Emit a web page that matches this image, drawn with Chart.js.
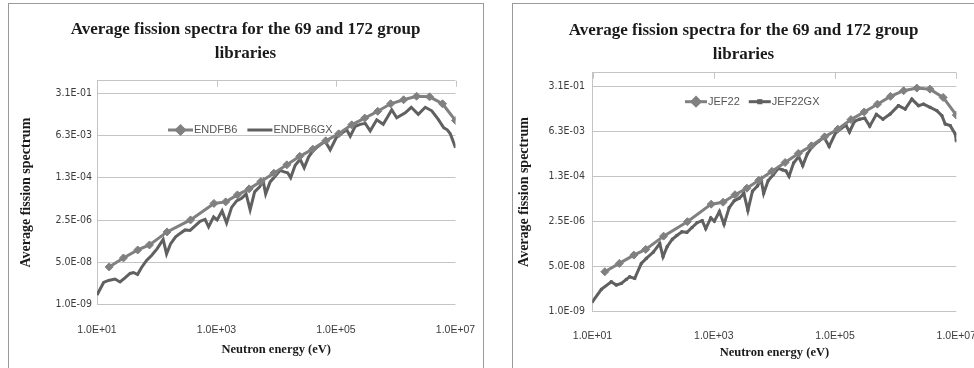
<!DOCTYPE html>
<html>
<head>
<meta charset="utf-8">
<script src="https://cdn.jsdelivr.net/npm/chart.js@4.4.0/dist/chart.umd.min.js"></script>
<style>
  html, body { margin: 0; padding: 0; background: #fff; overflow: hidden; }
  body { width: 974px; height: 368px; position: relative; }
  .panel { position: absolute; border: 1px solid #9a9a9a; }
  #left-panel { left: 8px; top: 3px; width: 474px; height: 390px; }
  #right-panel { left: 512px; top: 3px; width: 480px; height: 390px; }
  canvas { position: absolute; }
  #left { left: 9px; top: 4px; }
  #right { left: 513px; top: 4px; }
</style>
</head>
<body>
<div class="panel" id="left-panel"></div>
<div class="panel" id="right-panel"></div>
<canvas id="left" width="473" height="364"></canvas>
<canvas id="right" width="461" height="364"></canvas>
<script>
const titleLines = ['Average fission spectra for the 69 and 172 group', 'libraries']
const xTicks = [1e1, 1e3, 1e5, 1e7]
const xTickLabels = ['1.0E+01', '1.0E+03', '1.0E+05', '1.0E+07']
const yTicks = [1e-9, 5e-8, 2.5e-6, 1.25e-4, 6.25e-3, 0.3125]
const yTickLabels = ['1.0E-09', '5.0E-08', '2.5E-06', '1.3E-04', '6.3E-03', '3.1E-01']

// 69 group library (energy in eV, upper group bound)
const energy69 = [15.97, 27.7, 48.05, 75.5, 148.7, 367.3, 906.9, 1425, 2239, 3519, 5530, 9118, 15030, 24780,
  40850, 67340, 111000, 183000, 302500, 500000, 821000, 1353000, 2231000, 3679000, 6065500, 10000000]
const endfb6 = [3.24e-8, 7.45e-8, 1.56e-7, 2.48e-7, 8.3e-7, 2.52e-6, 1.16e-5, 1.34e-5, 2.56e-5, 4.47e-5, 8.8e-5,
  1.91e-4, 4.13e-4, 9.08e-4, 1.77e-3, 3.82e-3, 7.31e-3, 1.68e-2, 3.13e-2, 5.89e-2, 0.118, 0.171, 0.237, 0.225, 0.118, 0.0251]
const jef22 = [3.1e-8, 6.4e-8, 1.32e-7, 2.16e-7, 6.84e-7, 2.4e-6, 1.1e-5, 1.3e-5, 2.5e-5, 4.4e-5, 8.7e-5,
  1.9e-4, 4.1e-4, 9.0e-4, 1.75e-3, 3.8e-3, 7.4e-3, 1.7e-2, 3.3e-2, 6.5e-2, 0.128, 0.209, 0.262, 0.240, 0.117, 0.0252]

// 172 group library
const energyGX = [10, 12.9, 15.6, 20, 24.3, 29.4, 35.7, 40.9, 47.7, 55.7,
  67.5, 81.8, 101, 128, 146, 170, 207, 246, 298, 361,
  438, 531, 644, 738, 894, 1023, 1241, 1476, 1790, 2171,
  2633, 3133, 3655, 4347, 5272, 6035, 6645, 7904, 9585, 11622,
  13563, 15524, 17425, 20730, 25135, 29330, 34886, 42313, 54366, 65931,
  79947, 102730, 124590, 151090, 172960, 209720, 254330, 308410, 374070, 480490,
  617600, 857000, 1039000, 1443000, 1818000, 2382000, 3120000, 4009000, 5151000, 6368000,
  7289000, 8184000, 10000000]
const endfb6gx = [2.41e-9, 7.69e-9, 9.25e-9, 1.06e-8, 8.05e-9, 1.17e-8, 1.77e-8, 1.94e-8, 1.61e-8, 3.09e-8,
  5.9e-8, 9.39e-8, 1.72e-7, 4.14e-7, 1.08e-7, 2.73e-7, 5.22e-7, 7.22e-7, 9.98e-7, 9.53e-7,
  1.45e-6, 2.2e-6, 2.64e-6, 1.32e-6, 3.33e-6, 2.52e-6, 5.81e-6, 1.91e-6, 8.04e-6, 1.47e-5,
  1.85e-5, 2.81e-5, 6.37e-6, 3.38e-5, 5.37e-5, 9.37e-5, 2.81e-5, 8.54e-5, 1.42e-4, 2.48e-4,
  2.16e-4, 1.97e-4, 1.24e-4, 3.94e-4, 6.88e-4, 3.13e-4, 8.67e-4, 1.66e-3, 2.64e-3, 3.65e-3,
  1.66e-3, 5.54e-3, 7.66e-3, 1.06e-2, 5.8e-3, 1.47e-2, 1.76e-2, 1.93e-2, 9.65e-3, 2.68e-2,
  1.76e-2, 6.76e-2, 3.22e-2, 5.12e-2, 8.52e-2, 4.46e-2, 8.52e-2, 6.16e-2, 2.8e-2, 1.28e-2,
  1.06e-2, 7.31e-3, 2.0e-3]

const energyJefGX = [10, 14, 20.4, 24.7, 29.9, 36.1, 41.1, 49.7, 63.9, 77.3,
  101, 128.5, 145.6, 170, 207, 246, 298, 361, 438, 531,
  644, 738, 894, 1023, 1241, 1476, 1790, 2171, 2633, 3133,
  3655, 4347, 5272, 6035, 6645, 7904, 9585, 11622, 13563, 15524,
  17425, 20730, 25135, 29330, 34886, 42313, 54366, 65931, 79947, 102730,
  124590, 151090, 172960, 209720, 254330, 308410, 374070, 480490, 617600, 810000,
  1110000, 1435000, 1850000, 2380000, 2880000, 3710000, 4780000, 5780000, 6560000, 7930000,
  9600000, 10000000]
const jef22gx = [2.3e-9, 6.7e-9, 1.3e-8, 9.8e-9, 1.13e-8, 1.6e-8, 2.0e-8, 1.75e-8, 6.4e-8, 9.9e-8,
  1.72e-7, 3.6e-7, 1.14e-7, 2.73e-7, 5.22e-7, 7.22e-7, 9.98e-7, 9.53e-7, 1.45e-6, 2.2e-6,
  2.64e-6, 1.32e-6, 3.33e-6, 2.52e-6, 5.81e-6, 1.91e-6, 8.04e-6, 1.47e-5, 1.85e-5, 2.81e-5,
  6.37e-6, 3.38e-5, 5.37e-5, 9.37e-5, 2.81e-5, 8.54e-5, 1.42e-4, 2.48e-4, 2.16e-4, 1.97e-4,
  1.24e-4, 3.94e-4, 6.88e-4, 3.13e-4, 8.67e-4, 1.66e-3, 2.64e-3, 3.65e-3, 1.66e-3, 5.54e-3,
  7.66e-3, 1.06e-2, 5.8e-3, 1.47e-2, 1.76e-2, 1.93e-2, 9.65e-3, 2.68e-2, 1.76e-2, 2.75e-2,
  5.7e-2, 4.25e-2, 0.101, 5.7e-2, 6.55e-2, 4.9e-2, 3.7e-2, 2.4e-2, 1.16e-2, 1.01e-2,
  4.9e-3, 2.7e-3]

const gridColor = '#c4c4c4'
const serif = "'Liberation Serif', 'Times New Roman', serif"

function pairs(xs, ys) {
  return xs.map((x, i) => ({ x: x, y: ys[i] }))
}

// draws the small marks under the top edge and the legend inside the plot
const overlay = {
  id: 'overlay',
  afterDraw(chart, args, opts) {
    const { ctx, chartArea, scales } = chart
    ctx.save()
    ctx.strokeStyle = gridColor
    ctx.lineWidth = 1
    ctx.beginPath()
    scales.x.ticks.forEach((t) => {
      const px = Math.round(scales.x.getPixelForValue(t.value)) + 0.5
      ctx.moveTo(px, chartArea.top)
      ctx.lineTo(px, chartArea.top + 6)
    })
    ctx.stroke()

    let x = opts.x
    const y = opts.y
    ctx.font = "11px 'Liberation Sans', Arial, sans-serif"
    ctx.textBaseline = 'middle'
    chart.data.datasets.forEach((ds) => {
      ctx.strokeStyle = ds.borderColor
      ctx.fillStyle = ds.borderColor
      ctx.lineWidth = ds.borderWidth
      ctx.beginPath()
      ctx.moveTo(x, y)
      ctx.lineTo(x + opts.len, y)
      ctx.stroke()
      if (ds.pointRadius > 0) {
        Chart.helpers.drawPoint(ctx, { pointStyle: ds.pointStyle, radius: ds.pointRadius, borderWidth: 1, rotation: 0 }, x + opts.len / 2, y)
      }
      ctx.fillStyle = '#555'
      ctx.fillText(ds.label, x + opts.len + 1, y)
      x += opts.len + 1 + ctx.measureText(ds.label).width + opts.gap
    })
    ctx.restore()
  }
}

function makeChart(id, datasets, area, legend, pads) {
  const canvas = document.getElementById(id)
  const W = canvas.width
  const H = canvas.height
  return new Chart(canvas.getContext('2d'), {
    type: 'line',
    data: { datasets: datasets },
    plugins: [overlay],
    options: {
      responsive: false,
      animation: false,
      layout: { padding: 0 },
      plugins: {
        legend: { display: false },
        tooltip: { enabled: false },
        overlay: legend,
        title: {
          display: true,
          text: titleLines,
          color: '#1a1a1a',
          font: { family: serif, size: 17, weight: 'bold', lineHeight: 1.4 },
          padding: { top: pads.titleTop, bottom: area.top - pads.titleTop - 47.6 }
        }
      },
      scales: {
        x: {
          type: 'logarithmic',
          min: 10,
          max: 1e7,
          afterBuildTicks: (s) => { s.ticks = xTicks.map((v) => ({ value: v })) },
          afterFit: (s) => { s.height = H - area.bottom; s.paddingLeft = 0; s.paddingRight = 0 },
          ticks: {
            callback: (v, i) => xTickLabels[i],
            autoSkip: false,
            maxRotation: 0,
            padding: pads.xTicks,
            color: '#3c3c3c',
            font: { family: "'Liberation Sans', Arial, sans-serif", size: 10.5 }
          },
          grid: { display: false, drawTicks: false },
          border: { display: false },
          title: {
            display: true,
            text: 'Neutron energy (eV)',
            color: '#1a1a1a',
            font: { family: serif, size: 12.5, weight: 'bold' },
            padding: { top: 0, bottom: pads.xTitle }
          }
        },
        y: {
          type: 'logarithmic',
          min: 1e-9,
          max: 1,
          afterBuildTicks: (s) => { s.ticks = yTicks.concat([1]).map((v) => ({ value: v })) },
          afterFit: (s) => { s.width = area.left },
          ticks: {
            callback: (v, i) => yTickLabels[i] || '',
            padding: pads.yTicks,
            color: '#3c3c3c',
            font: { family: "'Liberation Sans Narrow', 'DejaVu Sans Condensed', sans-serif", size: 10.5 }
          },
          grid: { color: gridColor, drawTicks: false },
          border: { display: true, color: gridColor },
          title: {
            display: true,
            text: 'Average fission spectrum',
            color: '#1a1a1a',
            font: { family: serif, size: 14, weight: 'bold' },
            padding: { top: pads.yTitle, bottom: 0 }
          }
        },
        // empty strip on the right so the title stays centred on the whole panel
        side: {
          type: 'linear',
          position: 'right',
          ticks: { display: false },
          grid: { display: false, drawTicks: false },
          border: { display: false },
          afterFit: (s) => { s.width = W - area.right; s.paddingTop = 0; s.paddingBottom = 0 }
        }
      }
    }
  })
}

function lib69(label, values) {
  return {
    label: label,
    data: pairs(energy69, values),
    borderColor: '#808080',
    backgroundColor: '#808080',
    borderWidth: 3,
    pointStyle: 'rectRot',
    pointRadius: 4,
    pointBorderWidth: 1,
    tension: 0
  }
}

function lib172(label, xs, values, radius) {
  return {
    label: label,
    data: pairs(xs, values),
    borderColor: '#606060',
    backgroundColor: '#606060',
    borderWidth: 3,
    pointStyle: 'rect',
    pointRadius: radius,
    pointBorderWidth: 1,
    tension: 0
  }
}

makeChart('left',
  [lib69('ENDFB6', endfb6), lib172('ENDFB6GX', energyGX, endfb6gx, 0)],
  { left: 88, right: 446.5, top: 76.7, bottom: 300.5 },
  { x: 159, y: 126, len: 25, gap: 10 },
  { titleTop: 14.1, xTicks: 19, xTitle: 11, yTicks: 5, yTitle: 9.4 })

makeChart('right',
  [lib69('JEF22', jef22), lib172('JEF22GX', energyJefGX, jef22gx, 1.5)],
  { left: 79.5, right: 443.3, top: 68.7, bottom: 307.3 },
  { x: 172, y: 97.7, len: 22, gap: 9 },
  { titleTop: 15.1, xTicks: 18.4, xTitle: 7.8, yTicks: 7.5, yTitle: 2.7 })
</script>
</body>
</html>
